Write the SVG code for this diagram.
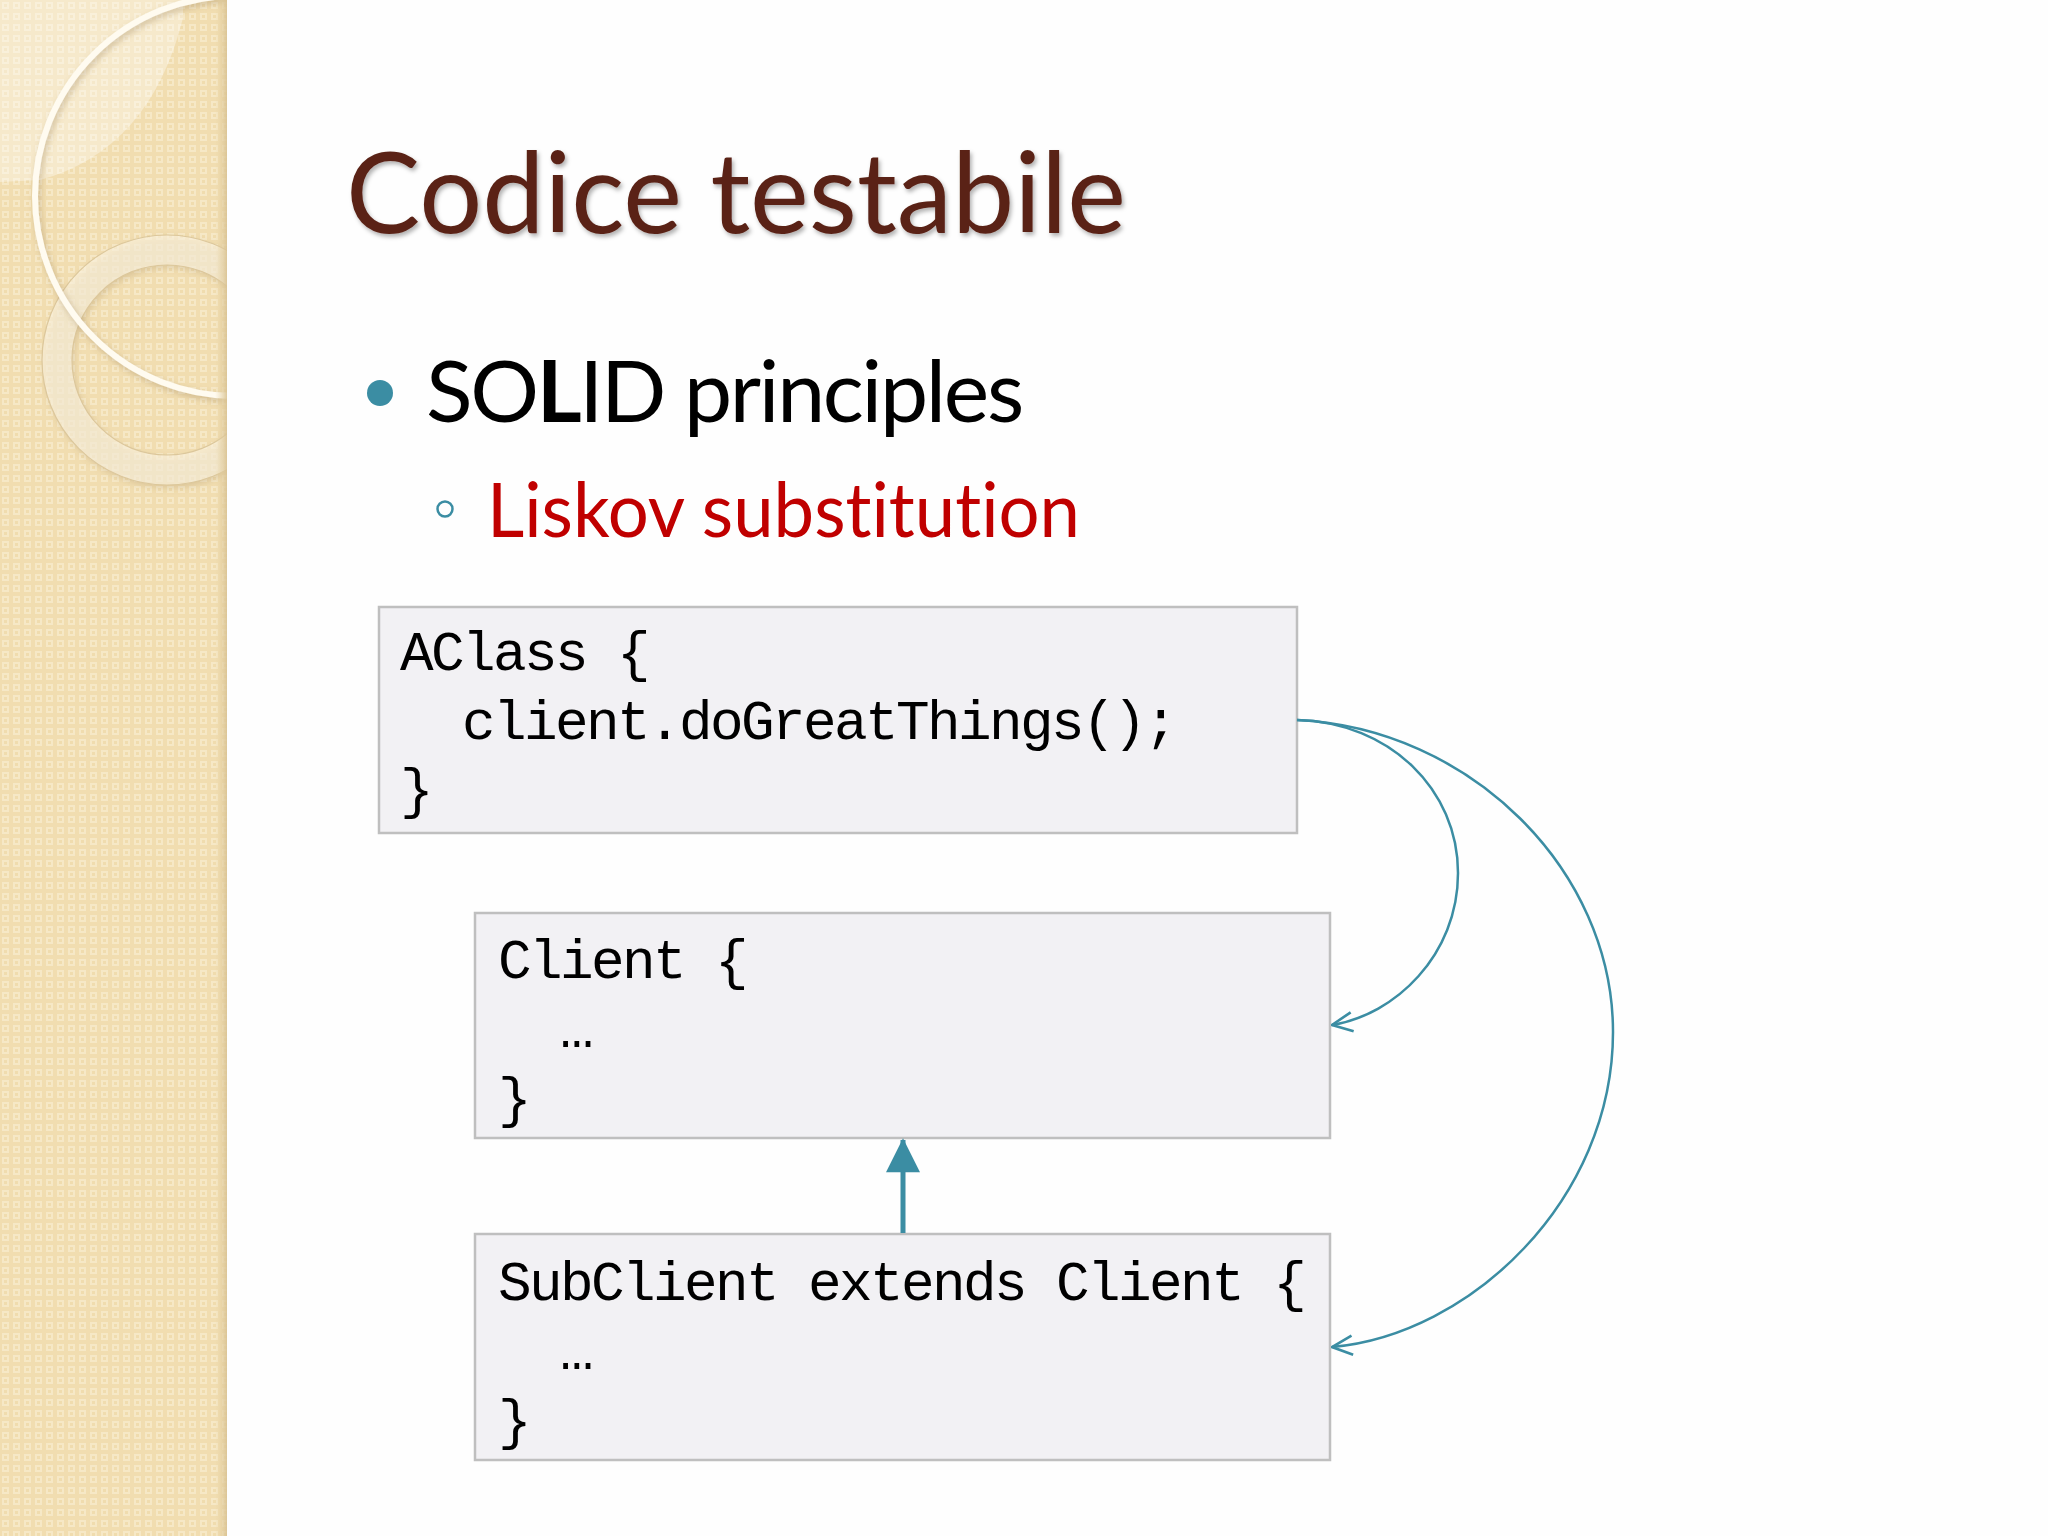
<svg xmlns="http://www.w3.org/2000/svg" width="2048" height="1536" viewBox="0 0 2048 1536">
  <style>
    .box { fill: #f2f1f4; stroke: #bfbfbf; stroke-width: 2.5; }
    .code { font-family: "Liberation Mono", "DejaVu Sans Mono", monospace; font-size: 56px; letter-spacing: -2.6px; fill: #000; }
    .curve { fill: none; stroke: #3b8da3; stroke-width: 2.5; }
    .sans { font-family: Lato, "Liberation Sans", sans-serif; font-variant-ligatures: none; }
  </style>
  <defs>
    <pattern id="weave" width="11" height="11" patternUnits="userSpaceOnUse">
      <rect width="11" height="11" fill="#f1ddb0"/>
      <rect x="2" y="2" width="7" height="7" fill="#f6e8c6"/>
      <rect x="4" y="4" width="3" height="3" fill="#f0dcae"/>
    </pattern>
    <linearGradient id="edge" x1="0" x2="1" y1="0" y2="0">
      <stop offset="0" stop-color="#e8d5a8" stop-opacity="0"/>
      <stop offset="1" stop-color="#d9c292" stop-opacity="0.9"/>
    </linearGradient>
    <clipPath id="sideclip"><rect x="0" y="0" width="227" height="1536"/></clipPath>
    <filter id="shadow" x="-5%" y="-10%" width="110%" height="130%">
      <feDropShadow dx="2" dy="3" stdDeviation="2" flood-color="#000" flood-opacity="0.3"/>
    </filter>
    <filter id="ringshadow" x="-20%" y="-20%" width="140%" height="140%">
      <feDropShadow dx="2" dy="3" stdDeviation="3" flood-color="#8a7040" flood-opacity="0.35"/>
    </filter>
    <marker id="openArrow" viewBox="0 0 20 20" refX="19" refY="10" markerWidth="24" markerHeight="24" markerUnits="userSpaceOnUse" orient="auto">
      <path d="M2,2 L19,10 L2,18" fill="none" stroke="#3b8da3" stroke-width="2.2"/>
    </marker>
    <marker id="solidArrow" viewBox="0 0 20 20" refX="19" refY="10" markerWidth="36" markerHeight="34" markerUnits="userSpaceOnUse" orient="auto">
      <path d="M0,0 L20,10 L0,20 Z" fill="#3b8da3"/>
    </marker>
  </defs>

  <rect width="2048" height="1536" fill="#fefefe"/>

  <!-- sidebar -->
  <g id="sidebar" clip-path="url(#sideclip)">
    <rect x="0" y="0" width="227" height="1536" fill="url(#weave)"/>
    <path d="M0,0 L183,0 L183,18 Q150,150 40,180 L0,182 Z" fill="#ffffff" fill-opacity="0.35"/>
    <circle cx="167" cy="360" r="110" fill="none" stroke="#fbf3df" stroke-opacity="0.6" stroke-width="30" filter="url(#ringshadow)"/>
    <circle cx="167" cy="360" r="125" fill="none" stroke="#dcc79b" stroke-width="1.2"/>
    <circle cx="167" cy="360" r="95" fill="none" stroke="#dcc79b" stroke-width="1.2"/>
    <circle cx="235" cy="196" r="200" fill="none" stroke="#fffbf0" stroke-width="6" filter="url(#ringshadow)"/>
    <rect x="215" y="0" width="12" height="1536" fill="url(#edge)"/>
  </g>

  <!-- title and bullets -->
  <text id="title" class="sans" x="346" y="233" font-size="112" fill="#5a2418" textLength="780" lengthAdjust="spacingAndGlyphs" filter="url(#shadow)">Codice testabile</text>
  <g id="bullet1">
    <circle cx="380" cy="393" r="13" fill="#3b8da3"/>
    <text class="sans" x="426" y="422" font-size="86" letter-spacing="-2.3" fill="#000">SO<tspan font-weight="bold">L</tspan>ID principles</text>
  </g>
  <g id="bullet2">
    <circle cx="445" cy="509" r="7.5" fill="none" stroke="#3b8da3" stroke-width="2.5"/>
    <text class="sans" x="487" y="537" font-size="76" fill="#c00000" textLength="593" lengthAdjust="spacingAndGlyphs">Liskov substitution</text>
  </g>

  <!-- nodes -->
  <g id="box-aclass">
    <rect class="box" x="379" y="607" width="918" height="226"/>
    <text class="code" x="400" y="670">AClass {</text>
    <text class="code" x="462" y="739">client.doGreatThings();</text>
    <text class="code" x="400" y="807">}</text>
  </g>
  <g id="box-client">
    <rect class="box" x="475" y="913" width="855" height="225"/>
    <text class="code" x="498" y="978">Client {</text>
    <text class="code" x="560" y="1047">…</text>
    <text class="code" x="498" y="1116">}</text>
  </g>
  <g id="box-subclient">
    <rect class="box" x="475" y="1234" width="855" height="226"/>
    <text class="code" x="498" y="1300">SubClient extends Client {</text>
    <text class="code" x="560" y="1369">…</text>
    <text class="code" x="498" y="1438">}</text>
  </g>

  <!-- connectors -->
  <g id="connectors">
    <line x1="903" y1="1233" x2="903" y2="1140" stroke="#3b8da3" stroke-width="5" marker-end="url(#solidArrow)"/>
    <path class="curve" d="M1297,720 C1390,722 1458,790 1458,873 C1458,955 1395,1015 1332,1025" marker-end="url(#openArrow)"/>
    <path class="curve" d="M1297,720 C1470,728 1613,870 1613,1032 C1613,1200 1470,1335 1332,1347" marker-end="url(#openArrow)"/>
  </g>
</svg>
